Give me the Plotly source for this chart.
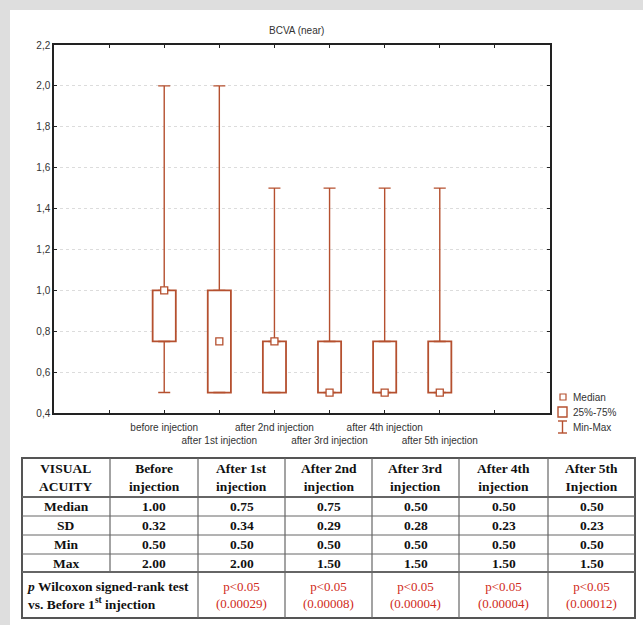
import plotly.graph_objects as go

# ---------------- data ----------------
categories = ["before injection", "after 1st injection", "after 2nd injection",
              "after 3rd injection", "after 4th injection", "after 5th injection"]
vmin = [0.50, 0.50, 0.50, 0.50, 0.50, 0.50]
q1 = [0.75, 0.50, 0.50, 0.50, 0.50, 0.50]
median = [1.00, 0.75, 0.75, 0.50, 0.50, 0.50]
q3 = [1.00, 1.00, 0.75, 0.75, 0.75, 0.75]
vmax = [2.00, 2.00, 1.50, 1.50, 1.50, 1.50]

y_ticks = [0.4, 0.6, 0.8, 1.0, 1.2, 1.4, 1.6, 1.8, 2.0, 2.2]

table_header = ["VISUAL<br>ACUITY", "Before<br>injection", "After 1st<br>injection",
                "After 2nd<br>injection", "After 3rd<br>injection", "After 4th<br>injection",
                "After 5th<br>Injection"]
row_labels = ["Median", "SD", "Min", "Max"]
tbl_median = ["1.00", "0.75", "0.75", "0.50", "0.50", "0.50"]
tbl_sd = ["0.32", "0.34", "0.29", "0.28", "0.23", "0.23"]
tbl_min = ["0.50", "0.50", "0.50", "0.50", "0.50", "0.50"]
tbl_max = ["2.00", "2.00", "1.50", "1.50", "1.50", "1.50"]
p_label = "<i>p</i> Wilcoxon signed-rank test<br>vs. Before 1<sup>st</sup> injection"
p_values = ["p<0.05<br>(0.00029)", "p<0.05<br>(0.00008)", "p<0.05<br>(0.00004)",
            "p<0.05<br>(0.00004)", "p<0.05<br>(0.00012)"]

legend_labels = ["Median", "25%-75%", "Min-Max"]

# ---------------- geometry helpers ----------------
W, H = 643, 625
ML, MR, MT, MB = 54, 93, 45, 212
PW, PH = W - ML - MR, H - MT - MB


def fx(X):
    return (X - ML) / PW


def fy(Y):
    return (H - MB - Y) / PH


C = "#b5502f"
xpos = list(range(len(categories)))

fig = go.Figure()

# boxes (25%-75%)
fig.add_trace(go.Bar(
    x=xpos, base=q1, y=[b - a for a, b in zip(q1, q3)], width=0.42,
    marker=dict(color="white", line=dict(color=C, width=1.8)),
    name="25%-75%", showlegend=False, hoverinfo="skip"))

# whiskers
fig.add_trace(go.Scatter(
    x=xpos, y=q3, mode="markers", marker=dict(size=1, color="rgba(0,0,0,0)"),
    error_y=dict(type="data", symmetric=False, array=[b - a for a, b in zip(q3, vmax)],
                 arrayminus=[0] * len(xpos), width=6, thickness=1.4, color=C),
    showlegend=False, hoverinfo="skip"))
fig.add_trace(go.Scatter(
    x=xpos, y=q1, mode="markers", marker=dict(size=1, color="rgba(0,0,0,0)"),
    error_y=dict(type="data", symmetric=False, array=[0] * len(xpos),
                 arrayminus=[a - b for a, b in zip(q1, vmin)], width=6, thickness=1.4, color=C),
    showlegend=False, hoverinfo="skip"))

# medians
fig.add_trace(go.Scatter(
    x=xpos, y=median, mode="markers",
    marker=dict(symbol="square", size=7, color="white", line=dict(color=C, width=1.3)),
    name="Median", showlegend=False, hoverinfo="skip"))

# x tick labels alternating on two rows
ticktext = [c if i % 2 == 0 else "<br>" + c for i, c in enumerate(categories)]

shapes = []
annotations = []

# background panel
shapes.append(dict(type="rect", xref="paper", yref="paper", x0=fx(10), x1=fx(W + 5),
                   y0=fy(H + 5), y1=fy(10), fillcolor="white", line=dict(width=0), layer="below"))

# title
annotations.append(dict(text="BCVA (near)", xref="paper", yref="paper", x=fx(296), y=fy(30),
                        showarrow=False, xanchor="center", yanchor="middle",
                        font=dict(size=10, color="#333", family="Liberation Sans")))

# legend (manual)
leg_y = [397, 412, 427]
shapes.append(dict(type="rect", xref="paper", yref="paper", x0=fx(560), x1=fx(566),
                   y0=fy(400), y1=fy(394), fillcolor="white", line=dict(color=C, width=1.2)))
shapes.append(dict(type="rect", xref="paper", yref="paper", x0=fx(558), x1=fx(567),
                   y0=fy(417), y1=fy(407), fillcolor="white", line=dict(color=C, width=1.4)))
shapes.append(dict(type="line", xref="paper", yref="paper", x0=fx(562.5), x1=fx(562.5),
                   y0=fy(433), y1=fy(421), line=dict(color=C, width=1.4)))
shapes.append(dict(type="line", xref="paper", yref="paper", x0=fx(558), x1=fx(567),
                   y0=fy(421), y1=fy(421), line=dict(color=C, width=1.4)))
shapes.append(dict(type="line", xref="paper", yref="paper", x0=fx(558), x1=fx(567),
                   y0=fy(433), y1=fy(433), line=dict(color=C, width=1.4)))
for lab, yy in zip(legend_labels, leg_y):
    annotations.append(dict(text=lab, xref="paper", yref="paper", x=fx(571), y=fy(yy),
                            showarrow=False, xanchor="left", yanchor="middle",
                            font=dict(size=10, color="#333", family="Liberation Sans")))

# ---------------- table ----------------
col_edges = [22, 110, 198, 285, 372, 459, 548, 635]
row_edges = [458, 497, 516, 535, 554, 572, 618]
LC = "#666"
TF = "Liberation Serif"

# outer border
shapes.append(dict(type="rect", xref="paper", yref="paper", x0=fx(col_edges[0]), x1=fx(col_edges[-1]),
                   y0=fy(row_edges[-1]), y1=fy(row_edges[0]), line=dict(color="#555", width=2)))
# horizontal lines
for i, ry in enumerate(row_edges[1:-1]):
    w = 2 if i in (0, len(row_edges) - 3) else 1
    shapes.append(dict(type="line", xref="paper", yref="paper", x0=fx(col_edges[0]), x1=fx(col_edges[-1]),
                       y0=fy(ry), y1=fy(ry), line=dict(color=LC, width=w)))
# vertical lines
for j, cx in enumerate(col_edges[1:-1]):
    bottom = row_edges[-2] if j == 0 else row_edges[-1]
    shapes.append(dict(type="line", xref="paper", yref="paper", x0=fx(cx), x1=fx(cx),
                       y0=fy(bottom), y1=fy(row_edges[0]), line=dict(color=LC, width=1.2)))

col_centers = [(a + b) / 2 for a, b in zip(col_edges[:-1], col_edges[1:])]
row_centers = [(a + b) / 2 for a, b in zip(row_edges[:-1], row_edges[1:])]

bold = dict(size=13.5, color="#111", family=TF)
for cx, txt in zip(col_centers, table_header):
    annotations.append(dict(text="<b>" + txt + "</b>", xref="paper", yref="paper", x=fx(cx),
                            y=fy(row_centers[0]), showarrow=False, xanchor="center",
                            yanchor="middle", font=bold))
body = [tbl_median, tbl_sd, tbl_min, tbl_max]
for r, (lab, vals) in enumerate(zip(row_labels, body)):
    yy = fy(row_centers[r + 1])
    annotations.append(dict(text="<b>" + lab + "</b>", xref="paper", yref="paper", x=fx(col_centers[0]),
                            y=yy, showarrow=False, xanchor="center", yanchor="middle", font=bold))
    for cx, v in zip(col_centers[1:], vals):
        annotations.append(dict(text="<b>" + v + "</b>", xref="paper", yref="paper", x=fx(cx),
                                y=yy, showarrow=False, xanchor="center", yanchor="middle", font=bold))
annotations.append(dict(text="<b>" + p_label + "</b>", xref="paper", yref="paper", x=fx(25),
                        y=fy(row_centers[-1]), showarrow=False, xanchor="left", yanchor="middle",
                        align="left", font=bold))
for cx, v in zip(col_centers[2:], p_values):
    annotations.append(dict(text=v, xref="paper", yref="paper", x=fx(cx), y=fy(row_centers[-1]),
                            showarrow=False, xanchor="center", yanchor="middle",
                            font=dict(size=13, color="#d02a20", family=TF)))

fig.update_layout(
    width=W, height=H,
    margin=dict(l=ML, r=MR, t=MT, b=MB, autoexpand=False),
    paper_bgcolor="#dedede", plot_bgcolor="white",
    separators=", ",
    showlegend=False,
    shapes=shapes, annotations=annotations,
    font=dict(family="Liberation Sans", color="#333"),
    xaxis=dict(range=[-2, 7], tickmode="array", tickvals=xpos, ticktext=ticktext, tickangle=0,
               ticks="inside", ticklen=3, tickcolor="#222", showgrid=False, zeroline=False,
               showline=True, linecolor="#222", linewidth=1.5, mirror="ticks",
               ticklabelstandoff=4,
               minor=dict(tickmode="linear", tick0=0, dtick=1, ticks="inside", ticklen=3,
                          tickcolor="#222", showgrid=False),
               tickfont=dict(size=10, color="#333"), fixedrange=True, automargin=False),
    yaxis=dict(range=[0.4, 2.2], tickmode="array", tickvals=y_ticks, tickformat=".1f",
               ticks="inside", ticklen=3, tickcolor="#222", showgrid=True, gridcolor="#dcdcdc",
               griddash="dot", gridwidth=1, zeroline=False, showline=True, linecolor="#222",
               linewidth=1.5, mirror="ticks", tickfont=dict(size=10, color="#333"),
               fixedrange=True, automargin=False),
)

fig.write_html("out.html", post_script="document.body.style.margin='0';",
               config={"displayModeBar": False})
